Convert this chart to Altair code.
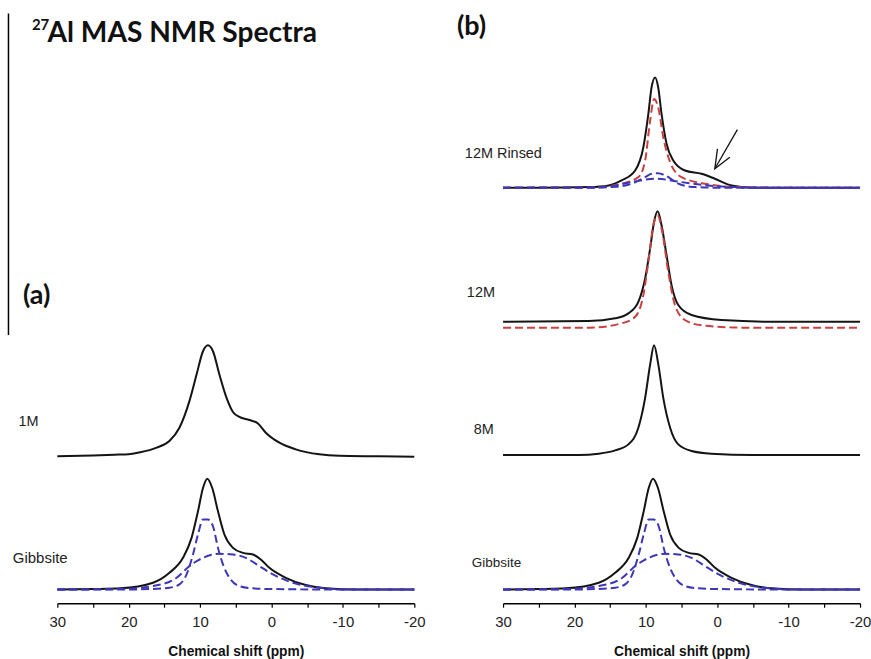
import altair as alt
import pandas as pd

# ---------------- data (ppm, intensity above own baseline) -------------
# Panel (a) 1M
ppm_1M = [30, 25, 22, 20, 18.4, 16.1, 14.3, 12.9, 11.5, 10.5, 9.6, 8.9, 8.2, 7.3, 6.3, 5.4, 4.5, 3.1, 1.9, 0.8, -1.1, -3.4, -6.7, -9.5, -15, -20]
int_1M = [0, 0.8, 1.6, 2.2, 4, 8.7, 15.4, 28.7, 55.4, 82, 105.4, 111.4, 105.4, 82, 58.7, 44.5, 39.5, 36.5, 33, 23.7, 13.7, 7, 2, 0.5, 0, -0.5]

# Gibbsite (both panels)
ppm_gib = [30, 25, 21.2, 16.6, 14.3, 12.4, 11.2, 10.3, 9.6, 9.0, 8.3, 7.5, 6.6, 5.4, 4.0, 2.6, 1.5, 0.3, -2.0, -4.8, -7.6, -12, -20]
int_gib = [0, 0.5, 1.2, 6.8, 16.8, 31.8, 51.8, 78.5, 101.8, 111.2, 101.8, 78.5, 55.2, 41.8, 36.8, 35.2, 30.2, 21.8, 11.8, 4.5, 1.2, 0, 0]
ppm_gib_fit1 = [30, 21, 16, 14.3, 12.9, 11.9, 11.0, 10.3, 9.6, 8.9, 8.2, 7.5, 6.8, 5.9, 4.5, 2.6, 0, -10, -20]
int_gib_fit1 = [0, 0, 0.8, 1.8, 5.2, 15.2, 35.2, 55.2, 70.2, 70.2, 63.5, 41.8, 25.2, 11.8, 3.5, 1.2, 0.5, 0, 0]
ppm_gib_fit2 = [30, 21, 16.6, 13.3, 11.5, 9.6, 7.3, 5.4, 3.6, 1.7, -0.2, -3.0, -6.7, -11, -20]
int_gib_fit2 = [0, 0.5, 3.5, 11.8, 23.5, 31.8, 35.8, 35.2, 31.8, 23.5, 15.2, 6.8, 1.8, 0, 0]

# Panel (b) 12M Rinsed
ppm_rin = [30, 25, 18, 15.2, 13.4, 11.5, 10.35, 9.65, 9.2, 8.7, 8.27, 7.8, 7.1, 6.16, 4.53, 2.2, 0.34, -2.0, -5.2, -10, -20]
int_rin = [0, 0, 0.6, 2.3, 7.3, 17.3, 40.6, 74, 100.6, 110.6, 100.6, 74, 44, 27.3, 17.3, 14, 9, 2.3, 0, 0, 0]
ppm_rin_red = [30, 18, 13.4, 11.05, 10.1, 9.4, 8.85, 8.27, 7.56, 6.6, 5.0, 1.7, -2.9, -10, -20]
int_rin_red = [0, 0, 4, 10.6, 27.3, 67.3, 89, 80.6, 50.6, 25.6, 10.6, 4, 0.6, 0, 0]
ppm_rin_blue1 = [30, 18, 14, 12, 10.1, 9.2, 8.3, 7.3, 6.3, 5.45, 4.2, 3.1, 0, -20]
int_rin_blue1 = [0, 0, 1, 4, 10.6, 14, 14.5, 12.3, 8, 4, 1.5, 0.6, 0, 0]
ppm_rin_blue2 = [30, 16, 12, 8.7, 5.0, 1.3, -2.4, -8, -20]
int_rin_blue2 = [0, 0.6, 5.6, 9, 5.6, 2.3, 0.6, 0, 0]

# 12M
ppm_12 = [30, 18, 14.3, 12.45, 11.05, 10.1, 9.4, 8.85, 8.35, 7.8, 7.1, 6.4, 5.46, 3.6, -0.6, -8, -20]
int_12 = [0, 0.7, 3.4, 8.4, 20, 43.4, 73.4, 100, 110.7, 96.7, 66.7, 36.7, 16.7, 6.7, 1.7, 0, 0]
ppm_12_red = [30, 18, 13.4, 11.5, 10.35, 9.65, 8.95, 8.35, 7.7, 6.86, 5.92, 4.53, 2.2, -4, -20]
int_12_red = [0, 0, 4.4, 11, 32.7, 66, 102.7, 112.7, 96, 56, 22.7, 7.7, 2.4, 0, 0]

# 8M
ppm_8 = [30, 19.4, 16.6, 14.3, 12.45, 11.05, 10.1, 9.4, 8.85, 8.25, 7.56, 6.6, 5.46, 3.6, 0.8, -5, -20]
int_8 = [0, 0, 1.3, 4.6, 10.6, 27.3, 57.3, 90.6, 110, 90.6, 57.3, 27.3, 10.6, 4, 1.3, 0, 0]

# vertical stacking offsets of each trace (same intensity units)
offsets = {"1M": 147.3, "Gibbsite": 13.7, "12M Rinsed": 416.7, "12M": 282.3, "12M fit": 276.3, "8M": 148.7}

# arrow in panel (b) (ppm, intensity units)
arrow_ppm = [-2.82, 0.34, -0.03, 0.34, -1.76]
arrow_int = [475, 435.7, 455.7, 435.7, 447.3]
arrow_seg = ["shaft", "shaft", "head", "head", "head"]

ticks = [30, 25, 20, 15, 10, 5, 0, -5, -10, -15, -20]

# ---------------------------------------------------------------------------------------------
BLACK = "#141414"
BLUE = "#3d37b8"
RED = "#c94040"
W, H = 358, 604
LABEL_FONT = "Liberation Sans"


def trace(name, ppm, inten, off, style):
    return pd.DataFrame({"ppm": ppm, "y": [v + off for v in inten], "trace": name, "style": style})


xs = alt.X(
    "ppm:Q",
    scale=alt.Scale(domain=[30, -20], nice=False, zero=False),
    axis=alt.Axis(
        values=ticks,
        labelExpr="datum.value % 10 == 0 ? '' + datum.value : ''",
        title="Chemical shift (ppm)",
        grid=False,
        domainColor="black",
        domainWidth=1.5,
        tickColor="black",
        tickWidth=1.2,
        tickSize=4,
        labelFont=LABEL_FONT,
        labelFontSize=15,
        labelColor="#222",
        labelPadding=7,
        labelOverlap=False,
        labelFlush=False,
        titleFont=LABEL_FONT,
        titleFontSize=13.8,
        titleFontWeight="bold",
        titleColor="#111",
        titlePadding=15,
    ),
)
ys = alt.Y("y:Q", scale=alt.Scale(domain=[0, H], nice=False, zero=False), axis=None)

one = pd.DataFrame({"k": [0]})


def txt(s, x, y, size=14, weight="normal", font=LABEL_FONT, color="#222"):
    return alt.Chart(one).mark_text(
        text=s, align="left", baseline="middle", fontSize=size, fontWeight=weight, font=font, color=color
    ).encode(x=alt.value(x), y=alt.value(y))


def lines(df, color, dash=None):
    kw = dict(color=color, strokeWidth=2, interpolate="monotone")
    if dash:
        kw["strokeDash"] = dash
    return alt.Chart(df).mark_line(**kw).encode(x=xs, y=ys, detail="trace:N")


# ---- panel (a)
a_black = pd.concat([
    trace("1M", ppm_1M, int_1M, offsets["1M"], "black"),
    trace("Gibbsite", ppm_gib, int_gib, offsets["Gibbsite"], "black"),
])
a_blue = pd.concat([
    trace("g1", ppm_gib_fit1, int_gib_fit1, offsets["Gibbsite"], "blue"),
    trace("g2", ppm_gib_fit2, int_gib_fit2, offsets["Gibbsite"], "blue"),
])

panel_a = alt.layer(
    lines(a_black, BLACK),
    lines(a_blue, BLUE, [8, 4]),
    alt.Chart(one).mark_rule(color="black", strokeWidth=1.5).encode(
        x=alt.value(-49), y=alt.value(12.7), y2=alt.value(335)
    ),
    alt.Chart(one).mark_text(text="27", align="left", baseline="alphabetic", fontSize=15,
                             fontWeight="bold", font="Lato", color="#111").encode(
        x=alt.value(-25.5), y=alt.value(29.5)),
    alt.Chart(one).mark_text(text="Al MAS NMR Spectra", align="left", baseline="alphabetic", fontSize=28.2,
                             fontWeight="bold", font="Lato", color="#111").encode(
        x=alt.value(-9.8), y=alt.value(41)),
    alt.Chart(one).mark_text(text="(a)", align="left", baseline="alphabetic", fontSize=27,
                             fontWeight="bold", font="Lato", color="#111").encode(
        x=alt.value(-34.5), y=alt.value(303.5)),
    txt("1M", -39, 422.7, size=14.5),
    txt("Gibbsite", -44.6, 558.7, size=15),
).properties(width=W, height=H)

# ---- panel (b)
b_black = pd.concat([
    trace("12M Rinsed", ppm_rin, int_rin, offsets["12M Rinsed"], "black"),
    trace("12M", ppm_12, int_12, offsets["12M"], "black"),
    trace("8M", ppm_8, int_8, offsets["8M"], "black"),
    trace("Gibbsite", ppm_gib, int_gib, offsets["Gibbsite"], "black"),
])
b_red = pd.concat([
    trace("r1", ppm_rin_red, int_rin_red, offsets["12M Rinsed"], "red"),
    trace("r2", ppm_12_red, int_12_red, offsets["12M fit"], "red"),
])
b_blue = pd.concat([
    trace("b1", ppm_rin_blue1, int_rin_blue1, offsets["12M Rinsed"], "blue"),
    trace("b2", ppm_rin_blue2, int_rin_blue2, offsets["12M Rinsed"], "blue"),
    trace("g1", ppm_gib_fit1, int_gib_fit1, offsets["Gibbsite"], "blue"),
    trace("g2", ppm_gib_fit2, int_gib_fit2, offsets["Gibbsite"], "blue"),
])
arrow_df = pd.DataFrame({"ppm": arrow_ppm, "y": arrow_int, "seg": arrow_seg, "i": list(range(len(arrow_ppm)))})

panel_b = alt.layer(
    lines(b_black, BLACK),
    lines(b_red, RED, [8, 4]),
    lines(b_blue, BLUE, [8, 4]),
    alt.Chart(arrow_df).mark_line(color="#111", strokeWidth=1.3).encode(
        x=xs, y=ys, detail="seg:N", order="i:Q"),
    alt.Chart(one).mark_text(text="(b)", align="left", baseline="alphabetic", fontSize=27,
                             fontWeight="bold", font="Lato", color="#111").encode(
        x=alt.value(-46.3), y=alt.value(34)),
    txt("12M Rinsed", -38.3, 154, size=14.5),
    txt("12M", -36.3, 293.3, size=14.5),
    txt("8M", -29.3, 430, size=14.5),
    txt("Gibbsite", -31.3, 563.3, size=13.5),
).properties(width=W, height=H)

chart = alt.hconcat(panel_a, panel_b, spacing=89, bounds="flush").properties(
    padding={"left": 7.5, "top": 0, "right": 0, "bottom": 0}
).configure_view(strokeWidth=0)

chart.save("out.html", embed_options={"renderer": "svg", "actions": False})
